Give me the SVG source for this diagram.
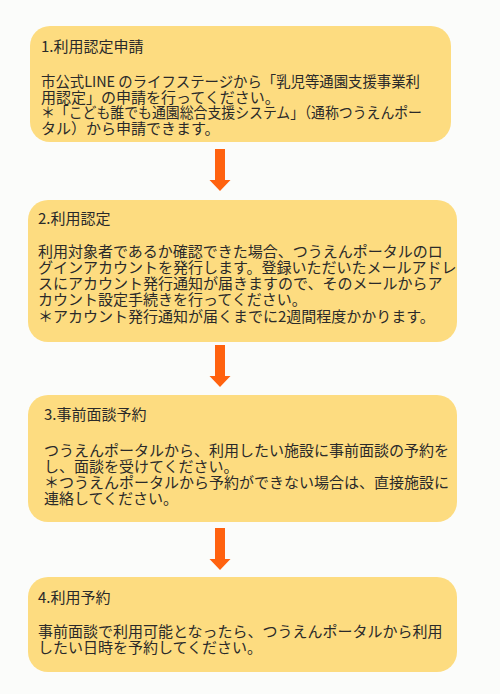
<svg xmlns="http://www.w3.org/2000/svg" width="500" height="694" viewBox="0 0 500 694">
<defs>
<style>
.box{fill:#fddc80;}
.t{font-family:"Noto Sans CJK JP","Noto Sans",sans-serif;font-size:15px;fill:#2a2a2a;}
.arr{fill:#ff620f;}
</style>
<polygon id="arrowShape" points="-5,0 5,0 5,31 10.5,31 0,42 -10.5,31 -5,31"/>
</defs>
<rect width="500" height="694" fill="#fbfcfa"/>
<g id="connectors">
<use href="#arrowShape" class="arr" x="220" y="149"/>
<use href="#arrowShape" class="arr" x="220" y="345"/>
<use href="#arrowShape" class="arr" x="220" y="528"/>
</g>
<g id="step1">
<rect class="box" x="30" y="26" width="421" height="116" rx="20"/>
<text class="t" x="41" y="52">1.利用認定申請</text>
<text class="t" x="41" y="87" textLength="379" lengthAdjust="spacingAndGlyphs">市公式LINE のライフステージから「乳児等通園支援事業利</text>
<text class="t" x="41" y="103">用認定」の申請を行ってください。</text>
<text class="t" x="41" y="118" textLength="381" lengthAdjust="spacingAndGlyphs">＊「こども誰でも通園総合支援システム」（通称つうえんポー</text>
<text class="t" x="41" y="134">タル）から申請できます。</text>
</g>
<g id="step2">
<rect class="box" x="28" y="200" width="429" height="142" rx="20"/>
<text class="t" x="38" y="224">2.利用認定</text>
<text class="t" x="38" y="257">利用対象者であるか確認できた場合、つうえんポータルのロ</text>
<text class="t" x="38" y="273">グインアカウントを発行します。登録いただいたメールアドレ</text>
<text class="t" x="38" y="289">スにアカウント発行通知が届きますので、そのメールからア</text>
<text class="t" x="38" y="305">カウント設定手続きを行ってください。</text>
<text class="t" x="38" y="322">＊アカウント発行通知が届くまでに2週間程度かかります。</text>
</g>
<g id="step3">
<rect class="box" x="28" y="395" width="429" height="127" rx="20"/>
<text class="t" x="44" y="420">3.事前面談予約</text>
<text class="t" x="44" y="456">つうえんポータルから、利用したい施設に事前面談の予約を</text>
<text class="t" x="44" y="472">し、面談を受けてください。</text>
<text class="t" x="44" y="488">＊つうえんポータルから予約ができない場合は、直接施設に</text>
<text class="t" x="44" y="504">連絡してください。</text>
</g>
<g id="step4">
<rect class="box" x="28" y="577" width="429" height="95" rx="20"/>
<text class="t" x="38" y="603">4.利用予約</text>
<text class="t" x="38" y="637">事前面談で利用可能となったら、つうえんポータルから利用</text>
<text class="t" x="38" y="653">したい日時を予約してください。</text>
</g>
</svg>
